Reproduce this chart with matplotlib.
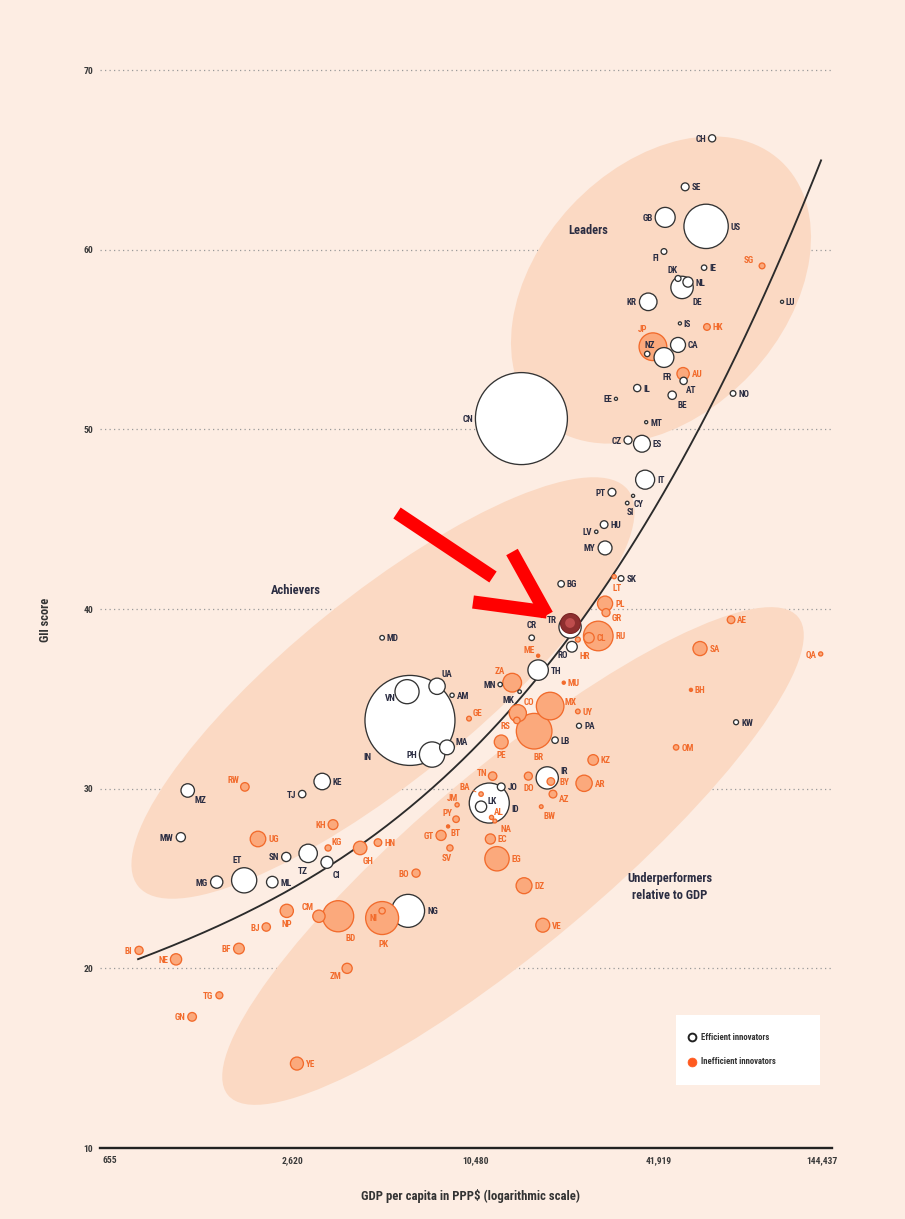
import os
import numpy as np
import matplotlib
matplotlib.use("Agg")
import matplotlib.pyplot as plt
from matplotlib import font_manager as fm
from matplotlib.patches import Ellipse, Rectangle
from matplotlib.lines import Line2D
import matplotlib.transforms as mtransforms

# ---------------- data ----------------
codes = ['CH','SE','GB','US','FI','DK','IE','NL','DE','KR',
         'SG','LU','IS','HK','JP','NZ','CA','FR','AU','AT',
         'IL','EE','BE','NO','MT','CN','CZ','ES','IT','PT',
         'CY','SI','HU','LV','MY','SK','LT','BG','PL','GR',
         'TR','CR','ME','RO','RU','CL','HR','MD','TH','ZA',
         'MN','MK','MU','MX','CO','RS','BR','UY','PA','LB',
         'GE','PE','KZ','AR','IR','BY','AZ','TN','DO','JO',
         'BA','UA','AM','VN','IN','PH','MA','ID','LK','BW',
         'JM','AL','NA','PY','BT','GT','SV','EC','EG','DZ',
         'VE','NG','AE','SA','QA','BH','KW','OM','MZ','RW',
         'TJ','KE','MW','UG','KH','KG','GH','HN','SN','TZ',
         'CI','ET','MG','ML','BO','NP','BJ','CM','BD','NI',
         'PK','BI','NE','BF','TG','GN','ZM','YE']

gdp_ppp = [62800,51200,44000,60000,43600,48500,59100,52300,50000,38700,
           91700,106700,49200,60400,40100,38400,48500,43600,50400,50600,
           35600,30300,46400,73600,38100,14800,33200,36900,37800,29400,
           34500,33000,27700,26100,27900,31500,29900,20000,27900,28100,
           21400,16000,16800,21700,26500,24700,22700,5150,16800,13800,
           12600,14600,20400,18400,14400,14300,16300,22700,22900,19100,
           9950,12700,25500,23800,18000,18500,18800,11900,15600,12700,
           10900,7810,8750,6220,6360,7520,8420,11600,10900,17200,
           9090,11800,12100,9020,8490,8050,8610,11700,12300,15100,
           17400,6270,72500,57300,143000,53500,75300,47800,1180,1820,
           2810,3270,1120,2010,3550,3420,4360,4990,2490,2940,
           3390,1810,1470,2240,6660,2500,2140,3190,3690,5150,
           5150,816,1080,1740,1500,1220,3950,2700]

gii_score = [66.2,63.5,61.8,61.3,59.9,58.4,59.0,58.2,57.9,57.1,
             59.1,57.1,55.9,55.7,54.6,54.2,54.7,54.0,53.1,52.7,
             52.3,51.7,51.9,52.0,50.4,50.6,49.4,49.2,47.2,46.5,
             46.3,45.9,44.7,44.3,43.4,41.7,41.8,41.4,40.3,39.8,
             39.0,38.4,37.4,37.9,38.5,38.4,38.3,38.4,36.6,35.9,
             35.8,35.4,35.9,34.6,34.2,33.8,33.2,34.3,33.5,32.7,
             33.9,32.6,31.6,30.3,30.6,30.4,29.7,30.7,30.7,30.1,
             29.7,35.7,35.2,35.4,33.8,31.9,32.3,29.2,29.0,29.0,
             29.1,28.4,28.2,28.3,27.9,27.4,26.7,27.2,26.1,24.6,
             22.4,23.2,39.4,37.8,37.5,35.5,33.7,32.3,29.9,30.1,
             29.7,30.4,27.3,27.2,28.0,26.7,26.7,27.0,26.2,26.4,
             25.9,24.9,24.8,24.8,25.3,23.2,22.3,22.9,22.9,23.2,
             22.8,21.0,20.5,21.1,18.5,17.3,20.0,14.7]

population_m = [8.5,10.2,66,325,5.5,5.8,4.8,17,83,51,
                5.6,0.6,0.35,7.4,127,4.8,37,65,25,8.8,
                8.7,1.3,11.5,5.3,0.45,1400,10.6,47,60,10.3,
                1.2,2.1,9.8,1.9,32,5.4,2.8,7.0,38,10.7,
                82,5.0,0.6,19,145,18,4.1,3.5,69,58,
                3.2,2.1,1.3,126,49,7.0,210,3.5,4.2,6.9,
                3.7,32,18.5,44,82,9.5,10,11.7,10.6,10,
                3.3,44,3.0,96,1340,106,36,265,21,2.3,
                2.9,2.9,2.5,7.0,0.75,17,6.4,17,98,42,
                32,180,9.6,33,2.8,1.5,4.1,4.8,30,12,
                9,45,14,40,16,6.3,30,9.5,14,56,
                24,105,25,22,11,29,11.5,25,160,6.5,
                180,11,21,19,8,12.4,17,28]

innovator_type = list("EEEEEEEEEE" "IEEIIEEEIE" "EEEEEEEEEE" "EEEEEEIEII"
                      "EEIEIIIEEI" "EEIIIIIIEE" "IIIIEIIIIE" "IEEEEEEEEI"
                      "IIIIIIIIII" "IEIIIIEIEI" "EEEIIIIIEE" "EEEEIIIIII"
                      "IIIIIIII")

highlight_code = 'TR'

trend_gdp = [810, 1325, 2505, 3550, 6865, 14650, 17980, 20920, 43950, 58640, 90320, 143400]
trend_gii = [20.7, 21.8, 24.2, 25.7, 29.4, 35.6, 36.8, 38.3, 46.7, 50.0, 56.7, 65.3]

x_ticks = [655, 2620, 10480, 41919, 144437]
x_tick_labels = ['655', '2,620', '10,480', '41,919', '144,437']
y_ticks = [10, 20, 30, 40, 50, 60, 70]

region_labels = ['Leaders', 'Achievers', 'Underperformers\nrelative to GDP']
legend_labels = ['Efficient innovators', 'Inefficient innovators']

# label placement (style): 'r' right, 'l' left, or (dx, dy) pixel offsets
label_pos = {
    'CH':'l','SE':'r','GB':'l','US':'r','FI':(-8,-6),'DK':(-5,9),'IE':'r','NL':'r',
    'DE':(15,-14),'KR':'l','SG':(-13,6),'LU':'r','IS':'r','HK':'r','JP':(-10,18),
    'NZ':(2,9),'CA':'r','FR':(3,-19),'AU':'r','AT':(8,-9),'IL':'r','EE':'l',
    'BE':(10,-9),'NO':'r','MT':'r','CN':'l','CZ':'l','ES':'r','IT':'r','PT':'l',
    'CY':(6,-8),'SI':(3,-8),'HU':'r','LV':'l','MY':'l','SK':'r','LT':(3,-11),
    'BG':'r','PL':'r','GR':(11,-5),'TR':(-18,7),'CR':(0,13),'ME':(-9,6),
    'RO':(-9,-8),'RU':'r','CL':'r','HR':(7,-16),'MD':'r','TH':'r','ZA':(-12,12),
    'MN':'l','MK':(-11,-8),'MU':'r','MX':(20,5),'CO':(11,12),'RS':(-11,-5),
    'BR':(4,-25),'UY':'r','PA':'r','LB':'r','GE':(8,6),'PE':(0,-13),'KZ':'r',
    'AR':'r','IR':(17,7),'BY':(14,0),'AZ':(11,-4),'TN':(-11,4),'DO':(0,-11),
    'JO':'r','BA':(-16,8),'UA':(10,13),'AM':'r','VN':(-17,-6),'IN':(-43,-36),
    'PH':'l','MA':(15,6),'ID':(26,-5),'LK':(11,6),'BW':(8,-9),'JM':(-5,7),
    'AL':(7,6),'NA':(11,-7),'PY':(-9,7),'BT':(7,-6),'GT':'l','SV':(-3,-10),
    'EC':'r','EG':'r','DZ':'r','VE':'r','NG':'r','AE':'r','SA':'r','QA':'l',
    'BH':'r','KW':'r','OM':'r','MZ':(13,-9),'RW':(-11,7),'TJ':'l','KE':'r',
    'MW':'l','UG':'r','KH':'l','KG':(9,6),'GH':(8,-13),'HN':'r','SN':'l',
    'TZ':(-5,-17),'CI':(9,-12),'ET':(-7,21),'MG':'l','ML':'r','BO':'l',
    'NP':(0,-13),'BJ':'l','CM':(-11,10),'BD':(12,-21),'NI':(-9,-7),'PK':(1,-25),
    'BI':'l','NE':'l','BF':'l','TG':'l','GN':'l','ZM':(-12,-7),'YE':'r',
}

# ---------------- fonts ----------------
def pick_font():
    prefs = ['notosans-condensedsemibold', 'notosans-semicondensedsemibold',
             'notosans-condensedbold', 'robotocondensed-bold', 'roboto_condensed-bold',
             'opensans-condensedbold', 'opensans_condensed-bold',
             'dejavusanscondensed-bold', 'liberationsansnarrow-bold',
             'notosans-semicondensedbold', 'lato-bold']
    files = [f.fname for f in fm.fontManager.ttflist]
    low = {os.path.basename(p).lower().replace(' ', ''): p for p in files}
    for pref in prefs:
        for name, p in low.items():
            if name.startswith(pref) and 'italic' not in name:
                return p
    return None

FONT_PATH = pick_font()

def fp(size):
    if FONT_PATH:
        return fm.FontProperties(fname=FONT_PATH, size=size)
    return fm.FontProperties(family='DejaVu Sans', weight='bold', size=size * 0.88)

# ---------------- style ----------------
BG = '#FDEDE3'
ELL = '#FBD9C3'
EFF_EDGE = '#333333'
INEFF_FACE = '#FBA97C'
INEFF_EDGE = '#F26B2C'
LAB_DARK = '#2B2D42'
LAB_OR = '#F26B2C'

W, H, DPI = 905, 1219, 100
fig = plt.figure(figsize=(W / DPI, H / DPI), dpi=DPI)
fig.patch.set_facecolor(BG)

ax_l, ax_r, ax_t, ax_b = 100, 832, 60, 1148
ax = fig.add_axes([ax_l / W, 1 - ax_b / H, (ax_r - ax_l) / W, (ax_b - ax_t) / H])
ax.set_facecolor('none')
ax.set_xscale('log')
ax.set_xlim(607, 155800)
ax.set_ylim(10, 70.56)

for s in ['left', 'top', 'right']:
    ax.spines[s].set_visible(False)
ax.spines['bottom'].set_linewidth(1.7)
ax.spines['bottom'].set_color('#222222')
ax.set_xticks(x_ticks)
ax.set_xticklabels(x_tick_labels)
ax.xaxis.set_minor_locator(matplotlib.ticker.NullLocator())
ax.set_yticks(y_ticks)
ax.set_yticklabels([str(v) for v in y_ticks])
ax.tick_params(axis='both', length=0, colors='#3A3A3A')
ax.tick_params(axis='x', pad=6)
ax.tick_params(axis='y', pad=5)
for lab in ax.get_xticklabels() + ax.get_yticklabels():
    lab.set_fontproperties(fp(6.8))
    lab.set_color('#3A3A3A')
ax.set_axisbelow(True)
ax.yaxis.grid(True, linestyle=(0, (1, 2.6)), color='#9A9A9A', linewidth=0.9)

# region ellipses (decorative, in figure pixels)
def px_to_in(x, y):
    return x / DPI, (H - y) / DPI

for (cx, cy, a, b, ang) in [(661, 290, 176, 123, 47),
                            (383, 688, 315, 92, 39),
                            (513, 856, 372, 90, 40)]:
    ex, ey = px_to_in(cx, cy)
    e = Ellipse((ex, ey), 2 * a / DPI, 2 * b / DPI, angle=ang,
                transform=fig.dpi_scale_trans, facecolor=ELL, edgecolor='none',
                zorder=0.8, clip_on=False)
    ax.add_patch(e)

# trend line
lt = np.log10(trend_gdp)
coef = np.polyfit(lt, trend_gii, 3)
xx = np.linspace(lt.min(), lt.max(), 300)
ax.plot(10 ** xx, np.polyval(coef, xx), color='#2B2B2B', lw=1.35, zorder=2)

# bubbles
gdp = np.array(gdp_ppp, float)
gii = np.array(gii_score, float)
pop = np.array(population_m, float)
K = 3.134
sizes = np.maximum(pop * K, 5.0)
order = np.argsort(-pop)
fcs, ecs = [], []
for i in order:
    if innovator_type[i] == 'E':
        fcs.append('white'); ecs.append(EFF_EDGE)
    else:
        fcs.append(INEFF_EDGE if pop[i] < 2 else INEFF_FACE); ecs.append(INEFF_EDGE)
ax.scatter(gdp[order], gii[order], s=sizes[order], c=fcs, edgecolors=ecs,
           linewidths=0.95, zorder=3)

# highlight for TR
hi = codes.index(highlight_code)
shift = mtransforms.ScaledTranslation(0, 4 / DPI, fig.dpi_scale_trans)
ax.scatter([gdp[hi]], [gii[hi]], s=205, c='#8E2F2F', edgecolors='#7A2424',
           linewidths=0.8, zorder=4, transform=ax.transData + shift)
ax.scatter([gdp[hi]], [gii[hi]], s=50, c='#BE4D4D', edgecolors='none',
           zorder=4.1, transform=ax.transData + shift)

# labels
def rpx(p):
    return max(46 * np.sqrt(p / 1400.0), 1.4)

for i, c in enumerate(codes):
    r = rpx(pop[i])
    pos = label_pos.get(c, 'r')
    col = LAB_DARK if innovator_type[i] == 'E' else LAB_OR
    if pos == 'r':
        off, ha = (r + 2.5, 0), 'left'
    elif pos == 'l':
        off, ha = (-(r + 2.5), 0), 'right'
    else:
        off, ha = pos, 'center'
    kw = {}
    if c == 'BA':
        kw['arrowprops'] = dict(arrowstyle='-', color=LAB_OR, lw=0.7, shrinkA=0, shrinkB=4)
    ax.annotate(c, (gdp[i], gii[i]), xytext=(off[0] * 0.72, off[1] * 0.72),
                textcoords='offset points', ha=ha, va='center_baseline',
                color=col, fontproperties=fp(6.6), zorder=10, **kw)

# region labels
for txt, (x, y) in zip(region_labels, [(588, 230), (296, 590), (670, 887)]):
    fig.text(x / W, 1 - y / H, txt, ha='center', va='center', color=LAB_DARK,
             fontproperties=fp(9.0), linespacing=1.4)

# axis titles
fig.text(45 / W, 1 - 620 / H, 'GII score', rotation=90, ha='center', va='center',
         color='#333333', fontproperties=fp(9.0))
fig.text(470 / W, 1 - 1196 / H, 'GDP per capita in PPP$ (logarithmic scale)',
         ha='center', va='center', color='#333333', fontproperties=fp(9.2))

# red annotation arrow
for (x0, y0, x1, y1) in [(397, 513, 493, 577), (512, 552, 547, 615), (473, 602, 547, 612)]:
    a0 = px_to_in(x0, y0); a1 = px_to_in(x1, y1)
    fig.add_artist(Line2D([a0[0], a1[0]], [a0[1], a1[1]], transform=fig.dpi_scale_trans,
                          color='#FF0000', lw=9.5, solid_capstyle='butt', zorder=20))

# legend box
lx0, ly0 = px_to_in(676, 1085)
fig.add_artist(Rectangle((lx0, ly0), 144 / DPI, 70 / DPI, transform=fig.dpi_scale_trans,
                         facecolor='white', edgecolor='none', zorder=15))
for j, (txt, y) in enumerate(zip(legend_labels, [1037, 1062])):
    mx, my = px_to_in(692, y)
    if j == 0:
        fig.add_artist(Line2D([mx], [my], marker='o', ms=5.6, mfc='white', mec='#222222',
                              mew=1.4, transform=fig.dpi_scale_trans, zorder=16))
    else:
        fig.add_artist(Line2D([mx], [my], marker='o', ms=6.4, mfc='#FF5A1F', mec='#FF5A1F',
                              mew=0.5, transform=fig.dpi_scale_trans, zorder=16))
    fig.text(701 / W, 1 - y / H, txt, ha='left', va='center', color='#333333',
             fontproperties=fp(6.3), zorder=17)

fig.savefig('out.png', dpi=DPI, facecolor=BG)
